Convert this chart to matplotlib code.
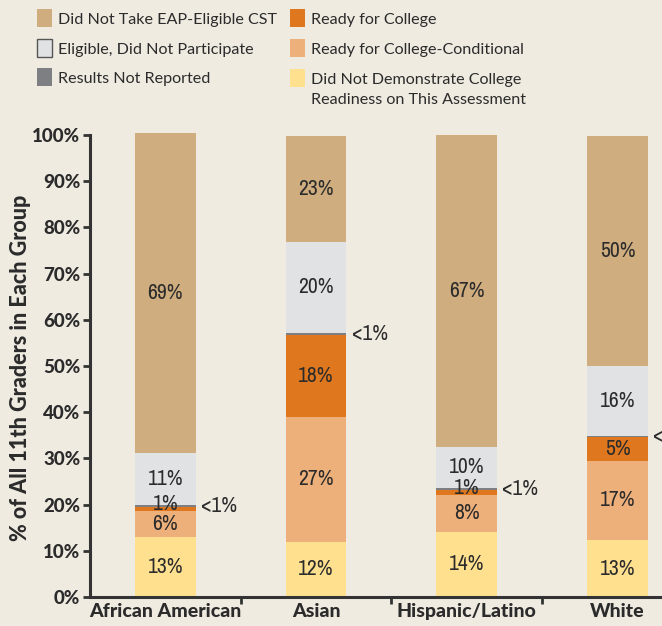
import matplotlib
matplotlib.use("Agg")
import matplotlib.pyplot as plt
from matplotlib.patches import Rectangle
from matplotlib import font_manager
import numpy as np

categories = ["African American", "Asian", "Hispanic/Latino", "White"]
# stacked bottom -> top
did_not_demonstrate = [13.0, 12.0, 14.1, 12.3]
ready_conditional = [5.7, 27.0, 8.0, 17.2]
ready_college = [0.8, 17.7, 1.1, 5.1]
not_reported = [0.4, 0.5, 0.4, 0.3]
eligible_not_part = [11.3, 19.7, 8.9, 15.0]
did_not_take = [69.3, 22.9, 67.5, 49.9]

label_did_not_demonstrate = ["13%", "12%", "14%", "13%"]
label_ready_conditional = ["6%", "27%", "8%", "17%"]
label_ready_college = ["1%", "18%", "1%", "5%"]
label_not_reported = ["<1%", "<1%", "<1%", "<1%"]
label_eligible_not_part = ["11%", "20%", "10%", "16%"]
label_did_not_take = ["69%", "23%", "67%", "50%"]

legend_labels = ["Did Not Take EAP-Eligible CST", "Eligible, Did Not Participate",
                 "Results Not Reported", "Ready for College",
                 "Ready for College-Conditional",
                 "Did Not Demonstrate College\nReadiness on This Assessment"]

series = [did_not_demonstrate, ready_conditional, ready_college,
          not_reported, eligible_not_part, did_not_take]
labels = [label_did_not_demonstrate, label_ready_conditional, label_ready_college,
          label_not_reported, label_eligible_not_part, label_did_not_take]
colors = ["#FFE08F", "#EEB07B", "#DF771E", "#7E7F82", "#E1E2E3", "#CFAD7E"]
legend_colors = ["#CFAD7E", "#E1E2E3", "#7E7F82", "#DF771E", "#EEB07B", "#FFE08F"]

# find a narrow font if one is installed
narrow = None
for f in font_manager.fontManager.ttflist:
    if ("Narrow" in f.name or "Condensed" in f.name) and f.style == "normal":
        narrow = f.name
        break
if narrow is None:
    for f in font_manager.fontManager.ttflist:
        if str(f.stretch) in ("condensed", "semi-condensed", "extra-condensed") and f.style == "normal":
            narrow = f.name
            break
num_family = [narrow, "DejaVu Sans"] if narrow else ["DejaVu Sans"]

BG = "#EFEBE1"
TXT = "#2B2B2B"
W, H = 662, 626
fig = plt.figure(figsize=(W / 100, H / 100), dpi=100, facecolor=BG)

ax_left = 90 / W
ax_bottom = 29 / H
px_per_pct = 4.62
ymax = 101
ax = fig.add_axes([ax_left, ax_bottom, 1 - ax_left, ymax * px_per_pct / H])
ax.set_facecolor(BG)

x = np.arange(len(categories))
bw = 0.404
bottom = np.zeros(len(categories))
numfont = dict(family=num_family, fontstretch="condensed", fontsize=15.5,
               fontweight="medium", color=TXT)
for i, (vals, labs, c) in enumerate(zip(series, labels, colors)):
    vals = np.array(vals)
    ax.bar(x, vals, bw, bottom=bottom, color=c, edgecolor="none", zorder=2)
    for j in range(len(categories)):
        if i == 3:
            ax.text(x[j] + bw / 2 + 0.035, bottom[j] + vals[j] / 2, labs[j],
                    ha="left", va="center", **numfont, clip_on=False)
        else:
            yc = bottom[j] + vals[j] / 2
            if vals[j] < 2:
                yc += 1.0
            ax.text(x[j], yc, labs[j], ha="center", va="center", **numfont)
    bottom += vals

for s in ["top", "right"]:
    ax.spines[s].set_visible(False)
for s in ["left", "bottom"]:
    ax.spines[s].set_color("#333333")
    ax.spines[s].set_linewidth(2.2)
ax.spines["left"].set_bounds(0, 100)

ax.set_yticks(np.arange(0, 101, 10))
ax.set_yticklabels([f"{v}%" for v in range(0, 101, 10)],
                   family="Lato", fontweight="black", fontsize=13.5, color=TXT)
ax.tick_params(axis="y", length=5, width=2, color="#333333", pad=2)

ax.set_xticks(x[:-1] + 0.5, minor=False)
ax.set_xticklabels([])
ax.set_xticks(x, minor=True)
ax.set_xticklabels(categories, minor=True, family="Lato", fontweight="black",
                   fontsize=14, color=TXT)
ax.tick_params(axis="x", which="major", length=5, width=2, color="#333333")
ax.tick_params(axis="x", which="minor", length=0, pad=4)
ax.set_xlim(-0.5, -0.5 + (W - 90) / 150.7)
ax.set_ylim(0, ymax)

fig.text(21 / W, 1 - 368 / H, "% of All 11th Graders in Each Group", rotation=90,
         ha="center", va="center", family="Lato", fontweight="black",
         fontsize=15.5, color=TXT)

# legend
sq = 15
legend_pos = [(37, 18), (37, 48), (37, 77), (290, 18), (290, 48), (290, 78)]
for (lx, ly), lab, c in zip(legend_pos, legend_labels, legend_colors):
    ec = "#555555" if c == "#E1E2E3" else "none"
    fig.patches.append(Rectangle((lx / W, 1 - (ly + 9) / H), sq / W, 18 / H,
                                 transform=fig.transFigure, facecolor=c,
                                 edgecolor=ec, linewidth=1))
    fig.text((lx + 21) / W, 1 - (ly - 5) / H, lab, ha="left", va="top",
             family="Lato", fontsize=11.6, color=TXT, linespacing=1.55)

fig.savefig("out.png", dpi=100, facecolor=BG)
